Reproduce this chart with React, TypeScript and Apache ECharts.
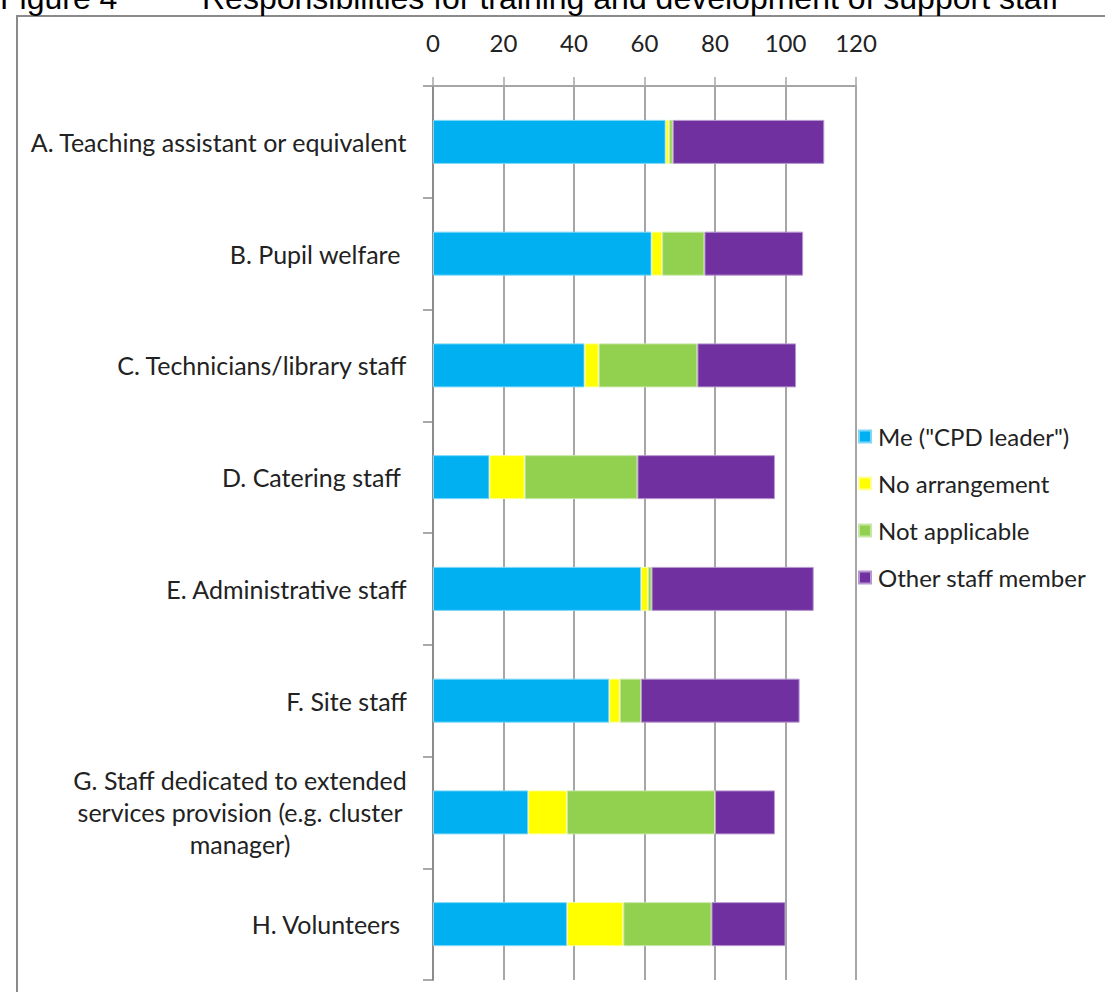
import React, { useEffect, useRef } from "react";
import * as echarts from "echarts";

const categories = [
  "A. Teaching assistant or equivalent",
  "B. Pupil welfare ",
  "C. Technicians/library staff",
  "D. Catering staff ",
  "E. Administrative staff",
  "F. Site staff",
  "G. Staff dedicated to extended\nservices provision (e.g. cluster\nmanager)",
  "H. Volunteers ",
];

const seriesNames = ['Me ("CPD leader")', "No arrangement", "Not applicable", "Other staff member"];
const meValues = [66, 62, 43, 16, 59, 50, 27, 38];
const noArrangementValues = [1, 3, 4, 10, 2, 3, 11, 16];
const notApplicableValues = [1, 12, 28, 32, 1, 6, 42, 25];
const otherStaffValues = [43, 28, 28, 39, 46, 45, 17, 21];
const xTicks = { min: 0, max: 120, interval: 20 };

const colors = ["#00B0F0", "#FFFF00", "#92D050", "#7030A0"];
const borderColors = ["#7fd7f7", "#ffff99", "#c8e7a7", "#b797cf"];
const FONT = "Lato";

export default function App() {
  const ref = useRef<HTMLDivElement>(null);
  useEffect(() => {
    if (!ref.current) return;
    const chart = echarts.init(ref.current, null, { renderer: "svg" });
    const data = [meValues, noArrangementValues, notApplicableValues, otherStaffValues];
    chart.setOption({
      animation: false,
      backgroundColor: "#ffffff",
      grid: { left: 433, right: 249, top: 86, bottom: 12, containLabel: false },
      legend: {
        orient: "vertical",
        left: 853,
        top: 419,
        icon: "rect",
        itemWidth: 12,
        itemHeight: 12,
        itemGap: 22,
        data: seriesNames,
        textStyle: { fontFamily: FONT, fontSize: 24, color: "#222", lineHeight: 25, padding: [0, 0, 0, 2] },
      },
      xAxis: {
        type: "value",
        position: "top",
        min: xTicks.min,
        max: xTicks.max,
        interval: xTicks.interval,
        axisLine: { show: true, lineStyle: { color: "#a6a6a6", width: 2 } },
        axisTick: { show: true, length: 9, lineStyle: { color: "#a6a6a6", width: 1.5 } },
        axisLabel: { margin: 32, fontFamily: FONT, fontSize: 24, color: "#222" },
        splitLine: { show: true, lineStyle: { color: "#a6a6a6", width: 2 } },
      },
      yAxis: {
        type: "category",
        inverse: true,
        data: categories,
        axisLine: { show: true, lineStyle: { color: "#8c8c8c", width: 2 } },
        axisTick: { show: true, length: 10, lineStyle: { color: "#8c8c8c", width: 1.5 } },
        axisLabel: {
          margin: 26,
          fontFamily: FONT,
          fontSize: 25,
          color: "#222",
          lineHeight: 32,
          formatter: (v: string) => v.split("\n").map((l) => `{c|${l}}`).join("\n"),
          rich: { c: { align: "center", fontFamily: FONT, fontSize: 25, lineHeight: 32, color: "#222" } },
        },
        splitLine: { show: false },
      },
      series: seriesNames.map((name, i) => ({
        name,
        type: "bar",
        stack: "total",
        barWidth: 44,
        data: data[i],
        itemStyle: { color: colors[i], borderColor: borderColors[i], borderWidth: 1 },
      })),
      graphic: [
        {
          type: "rect",
          shape: { x: 17, y: 16, width: 1100, height: 1000 },
          style: { fill: "none", stroke: "#8a8a8a", lineWidth: 2 },
          silent: true,
        },
        {
          type: "text",
          x: 0,
          y: 14,
          style: { text: "Figure 4", font: "32px 'Liberation Sans'", fill: "#000", textVerticalAlign: "bottom" },
        },
        {
          type: "text",
          x: 202,
          y: 14,
          style: {
            text: "Responsibilities for training and development of support staff",
            font: "32px 'Liberation Sans'",
            fill: "#000",
            textVerticalAlign: "bottom",
          },
        },
      ],
    });
    return () => chart.dispose();
  }, []);
  return (
    <div
      ref={ref}
      style={{ position: "absolute", left: 0, top: 0, width: 1105, height: 992 }}
    />
  );
}
